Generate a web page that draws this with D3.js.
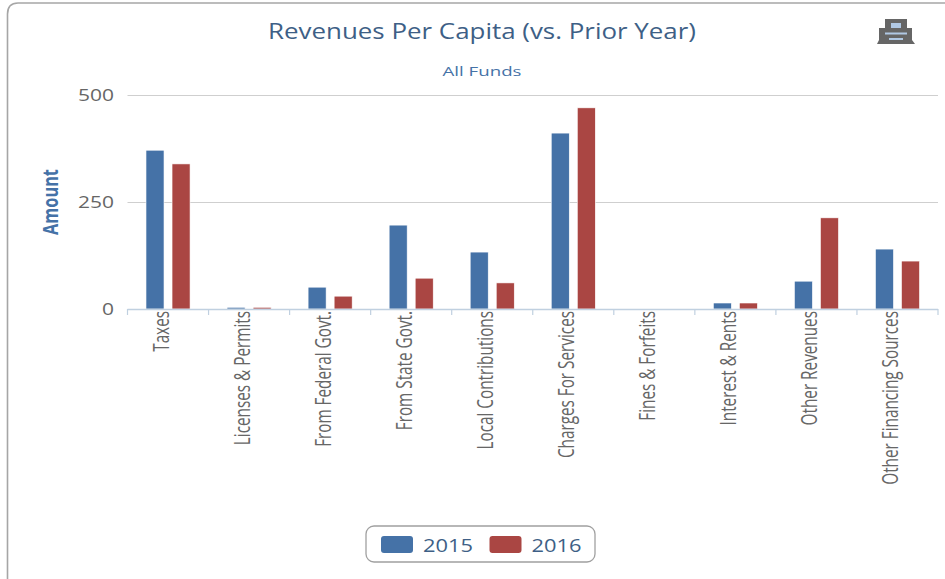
<!DOCTYPE html>
<html><head><meta charset="utf-8">
<script src="https://cdn.jsdelivr.net/npm/d3@7/dist/d3.min.js"></script>
<style>html,body{margin:0;padding:0;background:#fff;overflow:hidden}svg{display:block}text{font-family:"Open Sans",sans-serif}</style>
</head><body><svg id="c" width="945" height="579"></svg>
<script>
const categories=["Taxes","Licenses & Permits","From Federal Govt.","From State Govt.","Local Contributions","Charges For Services","Fines & Forfeits","Interest & Rents","Other Revenues","Other Financing Sources"];
const years=["2015","2016"];
const values2015=[371,4,51,196,133,411,0,14,65,140];
const values2016=[339,4,30,72,61,470,0,14,213,112];
const yTicks=[0,250,500];
const colors=["#4572A7","#AA4643"];
const title="Revenues Per Capita (vs. Prior Year)",subtitle="All Funds",yTitle="Amount";

const svg=d3.select("#c");
svg.append("path").attr("d","M7.5,579V14Q7.5,3 18,3H945").attr("fill","none").attr("stroke","#a6a6a6").attr("stroke-width",1.6);

const x=d3.scaleBand().domain(categories).range([127.5,938]);
const x1=d3.scaleBand().domain(years).range([0,x.bandwidth()]).paddingInner(0.3077).paddingOuter(0.71);
const y=d3.scaleLinear().domain([0,500]).range([309,95]);

svg.append("text").attr("x",482).attr("y",39).attr("text-anchor","middle").attr("font-size",21)
  .attr("textLength",428).attr("lengthAdjust","spacingAndGlyphs").attr("fill","#3E5F86").text(title);
svg.append("text").attr("x",482).attr("y",75.5).attr("text-anchor","middle").attr("font-size",13.5)
  .attr("textLength",79).attr("lengthAdjust","spacingAndGlyphs").attr("fill","#4572A7").text(subtitle);

const gy=svg.append("g").attr("transform","translate(127.5,0)").call(d3.axisLeft(y).tickValues(yTicks).tickSize(-(938-127.5)));
gy.select(".domain").remove();
gy.selectAll("line").attr("stroke","#cfcfcf").attr("stroke-width",1.2);
gy.selectAll("text").attr("font-size",16.5).attr("fill","#666").attr("text-anchor","end").attr("x",-13.5)
  .each(function(d){const t=d3.select(this);t.attr("textLength",String(d).length*12).attr("lengthAdjust","spacingAndGlyphs");});

svg.append("text").attr("transform","translate(57.5,202) rotate(-90) scale(1.02,1.35)").attr("text-anchor","middle").attr("font-size",16).attr("font-weight",700).attr("fill","#4572A7").text(yTitle);

[values2015,values2016].forEach((vals,s)=>{
  svg.append("g").selectAll("rect").data(vals).join("rect")
    .attr("x",(d,i)=>x(categories[i])+x1(years[s]))
    .attr("y",d=>y(d)).attr("width",x1.bandwidth()).attr("height",d=>y(0)-y(d))
    .attr("fill",colors[s]).attr("stroke","#fff").attr("stroke-width",0.6);
});

const gx=svg.append("g").attr("transform","translate(0,309)").call(d3.axisBottom(x).tickSize(0).tickFormat(""));
gx.select(".domain").attr("stroke","#C0D0E0").attr("stroke-width",1.5).attr("d","M127.5,0.5H938");
gx.selectAll("text").remove();
const edges=categories.map(c=>x(c)).concat([x.range()[1]]);
svg.append("g").selectAll("line").data(edges).join("line")
  .attr("x1",d=>d).attr("x2",d=>d).attr("y1",309).attr("y2",315).attr("stroke","#C0D0E0").attr("stroke-width",1.2);
svg.append("g").selectAll("text").data(categories).join("text")
  .attr("transform",d=>`translate(${x(d)+x.bandwidth()/2+1},311) rotate(-90) scale(1.02,1.4)`)
  .attr("text-anchor","end").attr("font-size",15).attr("fill","#666").text(d=>d);

svg.append("rect").attr("x",366).attr("y",526).attr("width",229).attr("height",36).attr("rx",8).attr("fill","#fff").attr("stroke","#a0a0a0").attr("stroke-width",1.3);
const lg=svg.append("g").selectAll("g").data(years).join("g").attr("transform",(d,i)=>`translate(${381+i*108.5},536)`);
lg.append("rect").attr("width",32).attr("height",17).attr("rx",3).attr("fill",(d,i)=>colors[i]);
lg.append("text").attr("x",42).attr("y",15.5).attr("font-size",19).attr("textLength",50).attr("lengthAdjust","spacingAndGlyphs").attr("fill","#3E5F86").text(d=>d);

const p=svg.append("g").attr("transform","translate(877,19)");
p.append("path").attr("d","M8,0H30V9H35V21L38,25H0L2,21V9H8Z").attr("fill","#666");
p.append("rect").attr("x",14).attr("y",4).attr("width",10).attr("height",5).attr("fill","#B0C8E4");
p.append("rect").attr("x",8).attr("y",13.5).attr("width",22).attr("height",2).attr("fill","#B0C8E4");
p.append("rect").attr("x",12).attr("y",19).attr("width",14).attr("height",2).attr("fill","#B0C8E4");
</script></body></html>
